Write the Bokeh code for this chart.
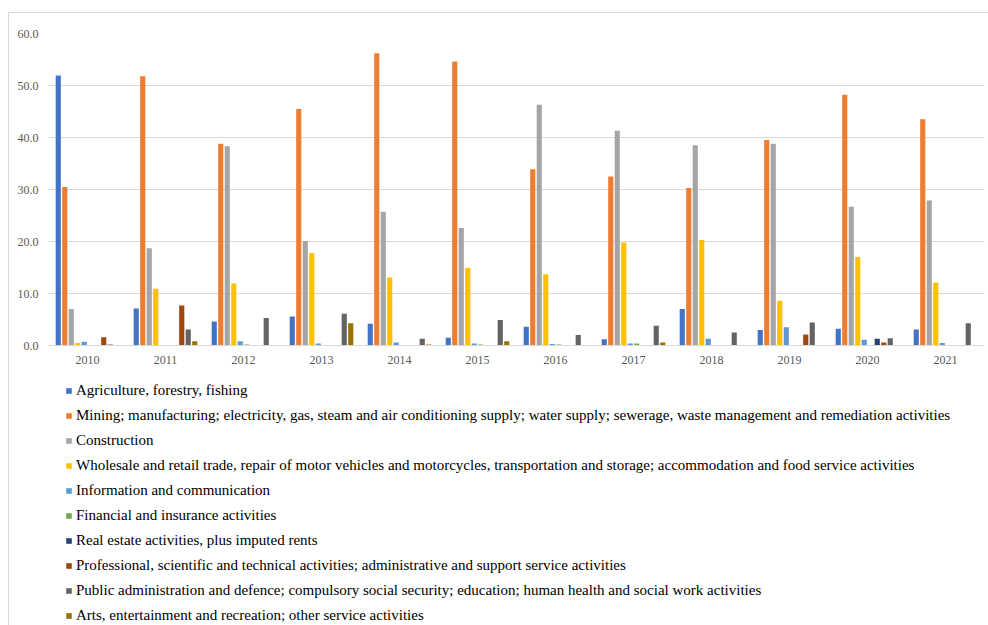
from bokeh.plotting import figure
from bokeh.models import (ColumnDataSource, FactorRange, Legend, LegendItem,
                          NumeralTickFormatter, FixedTicker)
from bokeh.layouts import column
from bokeh.transform import dodge
from bokeh.embed import file_html
from bokeh.resources import INLINE

years = ["2010", "2011", "2012", "2013", "2014", "2015",
         "2016", "2017", "2018", "2019", "2020", "2021"]

series_names = [
    "Agriculture, forestry, fishing",
    "Mining; manufacturing; electricity, gas, steam and air conditioning supply; water supply; sewerage, waste management and remediation activities",
    "Construction",
    "Wholesale and retail trade, repair of motor vehicles and motorcycles, transportation and storage; accommodation and food service activities",
    "Information and communication",
    "Financial and insurance activities",
    "Real estate activities, plus imputed rents",
    "Professional, scientific and technical activities; administrative and support service activities",
    "Public administration and defence; compulsory social security; education; human health and social work activities",
    "Arts, entertainment and recreation; other service activities",
]

agriculture   = [51.9, 7.1, 4.6, 5.6, 4.2, 1.5, 3.6, 1.2, 7.0, 3.0, 3.2, 3.1]
mining        = [30.5, 51.8, 38.8, 45.5, 56.2, 54.6, 33.9, 32.5, 30.3, 39.5, 48.2, 43.5]
construction  = [7.0, 18.7, 38.3, 20.1, 25.7, 22.6, 46.3, 41.3, 38.5, 38.8, 26.7, 27.9]
wholesale     = [0.5, 10.9, 11.9, 17.8, 13.1, 14.9, 13.7, 19.8, 20.3, 8.6, 17.0, 12.1]
information   = [0.7, 0.0, 0.8, 0.4, 0.6, 0.4, 0.3, 0.4, 1.3, 3.5, 1.1, 0.5]
financial     = [0.0, 0.0, 0.2, 0.0, 0.0, 0.2, 0.2, 0.4, 0.0, 0.0, 0.0, 0.1]
real_estate   = [0.0, 0.0, 0.0, 0.0, 0.0, 0.0, 0.0, 0.0, 0.0, 0.0, 1.3, 0.0]
professional  = [1.6, 7.7, 0.0, 0.0, 0.0, 0.0, 0.0, 0.0, 0.0, 2.1, 0.6, 0.1]
public_admin  = [0.2, 3.1, 5.3, 6.1, 1.3, 4.9, 2.0, 3.8, 2.5, 4.4, 1.4, 4.3]
arts          = [0.0, 0.8, 0.0, 4.3, 0.2, 0.8, 0.0, 0.6, 0.0, 0.0, 0.0, 0.0]

values = [agriculture, mining, construction, wholesale, information,
          financial, real_estate, professional, public_admin, arts]
colors = ["#4472C4", "#ED7D31", "#A5A5A5", "#FFC000", "#5B9BD5",
          "#70AD47", "#264478", "#9E480E", "#636363", "#997300"]
keys = ["s%d" % i for i in range(len(values))]
y_ticks = [0, 10, 20, 30, 40, 50, 60]

data = {"year": years}
for k, v in zip(keys, values):
    data[k] = v
source = ColumnDataSource(data)

FONT = "Liberation Serif"

# ---- main chart ----
p = figure(x_range=FactorRange(*years, range_padding=0), y_range=(0, 60),
           width=979, height=357, output_backend="svg", toolbar_location=None,
           min_border_left=39, min_border_top=20, min_border_right=4,
           min_border_bottom=25)
p.outline_line_color = None
p.background_fill_color = "white"
p.border_fill_color = "white"

n = len(values)
step = 0.0833
for i, (k, c) in enumerate(zip(keys, colors)):
    off = (i - (n - 1) / 2) * step
    p.vbar(x=dodge("year", off, range=p.x_range), top=k, width=0.066,
           source=source, fill_color=c, line_color=None)

p.xgrid.grid_line_color = None
p.ygrid.grid_line_color = "#d9d9d9"
p.ygrid.grid_line_width = 1
p.yaxis.ticker = FixedTicker(ticks=y_ticks)
p.yaxis.formatter = NumeralTickFormatter(format="0.0")
p.yaxis.axis_line_color = None
p.yaxis.major_tick_line_color = None
p.yaxis.minor_tick_line_color = None
p.yaxis.major_tick_out = 0
p.yaxis.major_label_standoff = 10
p.xaxis.axis_line_color = "#d9d9d9"
p.xaxis.major_tick_line_color = None
p.xaxis.major_tick_out = 0
p.xaxis.major_label_standoff = 10
for ax in (p.xaxis, p.yaxis):
    ax.major_label_text_font = FONT
    ax.major_label_text_font_size = "12px"
    ax.major_label_text_color = "#595959"

# ---- legend panel (separate canvas so the legend is not clipped) ----
lg = figure(width=979, height=255, x_range=(0, 1), y_range=(0, 1),
            output_backend="svg", toolbar_location=None,
            min_border=0, x_axis_type=None, y_axis_type=None)
lg.outline_line_color = None
lg.grid.visible = False
lg.background_fill_color = "white"
lg.border_fill_color = "white"

items = []
for c, name in zip(colors, series_names):
    # off-screen proxy renderer, only used to draw the legend swatch
    r = lg.vbar(x=[-5.0], top=[0.0], width=0.1, fill_color=c, line_color=None)
    items.append(LegendItem(label=name, renderers=[r]))

legend = Legend(items=items, location=(17, 0), orientation="vertical",
                label_text_font=FONT, label_text_font_size="15px",
                label_text_color="#000000", glyph_width=7, glyph_height=7,
                label_standoff=4, label_height=20, spacing=5, padding=0,
                margin=0, border_line_color=None, background_fill_alpha=0)
lg.add_layout(legend, "center")

layout = column(p, lg, spacing=0)
layout.margin = (13, 0, 0, 9)
layout.styles = {"outline": "1px solid #d9d9d9"}

open("out.html", "w").write(file_html(layout, INLINE))
